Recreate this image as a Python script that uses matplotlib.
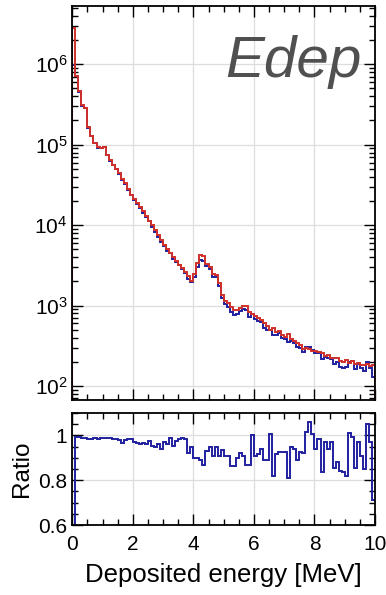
import numpy as np
import matplotlib
matplotlib.use('Agg')
import matplotlib.pyplot as plt
from matplotlib.ticker import MultipleLocator, LogLocator, NullFormatter

plt.rcParams['font.family'] = ['Liberation Sans', 'DejaVu Sans']
plt.rcParams['mathtext.default'] = 'regular'

# 100 bins of 0.1 MeV from 0 to 10 MeV
edges = np.linspace(0, 10, 101)

# counts of the red histogram
red = [2.8e6, 7.2e5, 4.6e5, 3.1e5, 2.9e5, 1.65e5, 1.3e5, 1.06e5, 9.3e4, 9.1e4,
       9.4e4, 7.5e4, 6.4e4, 5.6e4, 5.0e4, 4.4e4, 3.8e4, 3.3e4, 2.8e4, 2.4e4,
       2.1e4, 1.9e4, 1.68e4, 1.48e4, 1.3e4, 1.14e4, 1.0e4, 8.7e3, 7.5e3, 6.5e3,
       5.7e3, 5.0e3, 4.5e3, 4.0e3, 3.6e3, 3.2e3, 2.9e3, 2.6e3, 2.3e3, 2.05e3,
       2.5e3, 3.4e3, 4.2e3, 4.1e3, 3.3e3, 3.0e3, 2.5e3, 2.4e3, 1.9e3, 1.35e3,
       1.15e3, 1.07e3, 9.7e2, 8.9e2, 8.7e2, 9.3e2, 1.0e3, 1.0e3, 8.3e2, 7.8e2,
       7.4e2, 7.0e2, 6.6e2, 6.0e2, 5.6e2, 5.0e2, 5.3e2, 4.7e2, 4.9e2, 4.3e2,
       4.1e2, 4.4e2, 3.8e2, 3.6e2, 3.4e2, 3.2e2, 2.85e2, 3.0e2, 2.9e2, 2.75e2,
       2.7e2, 2.65e2, 2.6e2, 2.35e2, 2.4e2, 2.25e2, 2.2e2, 2.25e2, 2.05e2, 2.0e2,
       2.1e2, 1.95e2, 2.05e2, 1.9e2, 1.95e2, 1.85e2, 1.8e2, 1.9e2, 1.75e2, 1.85e2]

# blue / red ratio per bin
ratio = [0.35, 0.995, 0.993, 0.99, 0.988, 0.986, 0.985, 0.987, 0.985, 0.988,
         0.99, 0.99, 0.99, 0.985, 0.984, 0.98, 0.968, 0.98, 0.983, 0.982,
         0.97, 0.965, 0.963, 0.965, 0.962, 0.975, 0.955, 0.948, 0.962, 0.94,
         0.97, 0.96, 0.99, 0.955, 0.975, 0.985, 0.988, 0.985, 0.92, 0.95,
         0.9, 0.9, 0.89, 0.868, 0.93, 0.95, 0.91, 0.948, 0.91, 0.933,
         0.91, 0.91, 0.862, 0.865, 0.9, 0.92, 0.91, 0.87, 0.87, 1.003,
         0.91, 0.915, 0.94, 0.89, 0.89, 1.005, 0.82, 0.915, 0.925, 0.925,
         0.925, 0.81, 0.95, 0.94, 0.89, 0.925, 0.92, 1.015, 1.06, 1.008,
         0.94, 0.985, 0.837, 0.97, 0.94, 0.97, 0.853, 0.88, 0.84, 0.835,
         0.82, 1.013, 0.995, 0.853, 0.97, 0.91, 0.85, 1.053, 0.97, 0.71]

red = np.array(red)
ratio = np.array(ratio)
blue = red * ratio

c_red = '#d0302a'
c_blue = '#2020a0'

fig = plt.figure(figsize=(3.86, 5.95), dpi=100)
ax = fig.add_axes([0.1873, 0.3277, 0.7842, 0.6622])
rx = fig.add_axes([0.1873, 0.1176, 0.7842, 0.1882], sharex=ax)

ax.stairs(blue, edges, baseline=1, color=c_blue, lw=1.4)
ax.stairs(red, edges, baseline=1, color=c_red, lw=1.4)
ax.set_yscale('log')
ax.set_ylim(67, 5.3e6)
ax.set_xlim(0, 10)
ax.yaxis.set_major_locator(LogLocator(base=10, numticks=10))
ax.yaxis.set_minor_locator(LogLocator(base=10, subs=np.arange(2, 10), numticks=20))
ax.yaxis.set_minor_formatter(NullFormatter())
ax.text(0.957, 0.82, 'Edep', transform=ax.transAxes, ha='right', va='baseline',
        fontsize=42, style='italic', color='#505050')
ax.tick_params(labelbottom=False)

rx.stairs(ratio, edges, baseline=None, color=c_blue, lw=1.4)
rx.set_ylim(0.6, 1.1)
rx.yaxis.set_major_locator(MultipleLocator(0.2))
rx.yaxis.set_minor_locator(MultipleLocator(0.05))
rx.set_yticks([0.6, 0.8, 1.0])
rx.set_yticklabels(['0.6', '0.8', '1'])
rx.set_ylabel('Ratio', fontsize=17.5)
rx.set_xlabel('Deposited energy [MeV]', fontsize=18.5, labelpad=7)

for a in (ax, rx):
    a.xaxis.set_major_locator(MultipleLocator(2))
    a.xaxis.set_minor_locator(MultipleLocator(0.5))
    a.grid(True, which='major', color='#dddddd', lw=0.9)
    a.set_axisbelow(True)
    a.tick_params(which='both', direction='in', top=True, right=True, width=1.0)
    a.tick_params(which='major', length=8, labelsize=15)
    a.tick_params(which='minor', length=4)
    for s in a.spines.values():
        s.set_linewidth(1.3)

rx.tick_params(axis='x', which='major', pad=7)

fig.savefig('out.png', dpi=100)
